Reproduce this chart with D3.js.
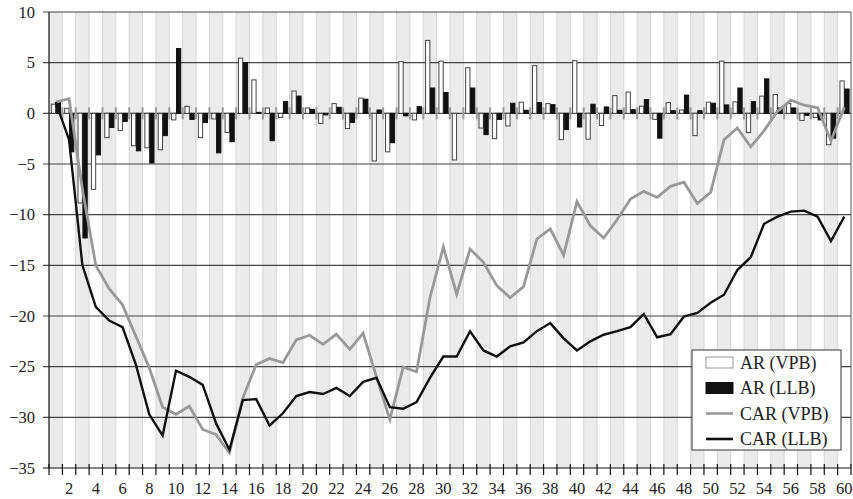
<!DOCTYPE html>
<html>
<head>
  <meta charset="utf-8">
  <script src="https://d3js.org/d3.v7.min.js"></script>
  <style>
    body{margin:0;background:#fff;}
    svg{display:block;font-family:"Liberation Serif","Times New Roman",serif;}
  </style>
</head>
<body>
<svg></svg>
<script>
// event days 1..60
var days = d3.range(1, 61);
var yTicks = [-35, -30, -25, -20, -15, -10, -5, 0, 5, 10];

var arVPB = [0.9, 0.5, -8.85, -7.5, -2.4, -1.7, -3.2, -3.4, -3.6, -0.65,
  0.7, -2.4, -0.55, -1.9, 5.45, 3.3, 0.53, -0.4, 2.2, 0.53,
  -1.0, 0.96, -1.5, 1.5, -4.7, -3.8, 5.1, -0.65, 7.2, 5.15,
  -4.6, 4.5, -1.45, -2.5, -1.25, 1.1, 4.7, 0.96, -2.6, 5.2,
  -2.55, -1.2, 1.75, 2.1, 0.7, -0.6, 1.06, 0.33, -2.2, 1.1,
  5.15, 1.13, -1.9, 1.7, 1.85, 0.96, -0.7, -0.4, -3.1, 3.2];

var arLLB = [1.1, -3.8, -12.3, -4.1, -1.4, -0.8, -3.7, -4.9, -2.2, 6.4,
  -0.6, -0.9, -3.9, -2.8, 5.0, 0.1, -2.7, 1.16, 1.7, 0.4,
  -0.15, 0.6, -0.9, 1.4, 0.33, -2.9, -0.25, 0.66, 2.5, 2.05,
  0, 2.5, -2.1, -0.6, 1.0, 0.3, 1.06, 0.86, -1.6, -1.35,
  0.9, 0.63, 0.3, 0.36, 1.36, -2.45, 0.26, 1.8, 0.26, 1.0,
  0.83, 2.5, 1.16, 3.4, 0.53, 0.53, -0.2, -0.65, -2.45, 2.4];

var carVPB = [1.1, 1.45, -7.5, -15.0, -17.3, -18.9, -22.0, -25.1, -29.0, -29.7,
  -28.9, -31.2, -31.7, -33.5, -28.1, -24.8, -24.2, -24.6, -22.35, -21.9,
  -22.8, -21.8, -23.3, -21.7, -26.0, -30.2, -25.05, -25.5, -18.2, -13.2,
  -17.85, -13.4, -14.7, -17.0, -18.2, -17.1, -12.4, -11.4, -14.0, -8.7,
  -11.1, -12.3, -10.5, -8.45, -7.7, -8.3, -7.2, -6.8, -8.9, -7.8,
  -2.6, -1.45, -3.3, -1.7, 0.2, 1.3, 0.8, 0.55, -2.7, 0.6];

var carLLB = [1.1, -2.6, -15.0, -19.1, -20.45, -21.1, -24.8, -29.7, -31.8, -25.4,
  -26.0, -26.8, -30.6, -33.2, -28.3, -28.2, -30.8, -29.6, -27.9, -27.5,
  -27.7, -27.1, -27.9, -26.5, -26.1, -29.0, -29.15, -28.5, -26.1, -24.0,
  -24.0, -21.5, -23.4, -24.0, -23.0, -22.6, -21.5, -20.7, -22.2, -23.4,
  -22.5, -21.85, -21.5, -21.1, -19.8, -22.1, -21.8, -20.05, -19.7, -18.7,
  -17.9, -15.45, -14.2, -10.9, -10.2, -9.7, -9.6, -10.2, -12.6, -10.2];

(function () {
  var W = 853, H = 499;
  var mL = 49, mR = 851, mT = 12, mB = 468;

  var svg = d3.select("svg").attr("width", W).attr("height", H);

  var x = d3.scaleBand().domain(days).range([mL, mR]).padding(0);
  var y = d3.scaleLinear().domain([-35, 10]).range([mB, mT]);
  var inner = d3.scaleBand().domain(["VPB", "LLB"]).range([1.8, x.bandwidth() - 1.8]).padding(0);

  // alternating bands
  svg.append("g").selectAll("rect").data(days).enter().append("rect")
    .attr("x", function(d){ return x(d); })
    .attr("y", mT)
    .attr("width", x.bandwidth())
    .attr("height", mB - mT)
    .attr("fill", function(d){ return d % 2 ? "#ebebeb" : "#fff"; });

  // faint band separators
  svg.append("g").selectAll("line").data(days.slice(1)).enter().append("line")
    .attr("x1", function(d){ return x(d); }).attr("x2", function(d){ return x(d); })
    .attr("y1", mT).attr("y2", mB)
    .attr("stroke", "#d6d6d6").attr("stroke-width", 1);

  // horizontal grid
  svg.append("g").selectAll("line").data(yTicks).enter().append("line")
    .attr("x1", mL - 6).attr("x2", mR)
    .attr("y1", function(d){ return y(d); }).attr("y2", function(d){ return y(d); })
    .attr("stroke", function(d){ return d === -35 ? "#111" : "#444"; })
    .attr("stroke-width", 1.1);

  // y labels
  svg.append("g").selectAll("text").data(yTicks).enter().append("text")
    .attr("x", 35).attr("y", function(d){ return y(d); })
    .attr("dy", "0.35em")
    .attr("text-anchor", "end")
    .attr("font-size", 16.5)
    .attr("fill", "#222")
    .text(function(d){ return d < 0 ? "\u2212" + (-d) : d; });

  // grey ticks on zero line
  svg.append("g").selectAll("line").data(days.slice(1)).enter().append("line")
    .attr("x1", function(d){ return x(d); }).attr("x2", function(d){ return x(d); })
    .attr("y1", y(0) - 6).attr("y2", y(0) + 6)
    .attr("stroke", "#9a9a9a").attr("stroke-width", 2);

  // bars
  function bars(vals, key, fill, stroke) {
    svg.append("g").selectAll("rect").data(vals).enter().append("rect")
      .attr("x", function(d, i){ return x(days[i]) + inner(key) + 0.5; })
      .attr("y", function(d){ return y(Math.max(0, d)); })
      .attr("width", inner.bandwidth() - 0.6)
      .attr("height", function(d){ return Math.abs(y(d) - y(0)); })
      .attr("fill", fill)
      .attr("stroke", stroke)
      .attr("stroke-width", 1);
  }
  bars(arVPB, "VPB", "#fff", "#444");
  bars(arLLB, "LLB", "#111", "#111");

  // cumulative lines
  var line = d3.line()
    .x(function(d, i){ return x(days[i]) + x.bandwidth() / 2; })
    .y(function(d){ return y(d); });

  svg.append("path").datum(carVPB).attr("d", line)
    .attr("fill", "none").attr("stroke", "#999").attr("stroke-width", 2.8)
    .attr("stroke-linejoin", "miter");
  svg.append("path").datum(carLLB).attr("d", line)
    .attr("fill", "none").attr("stroke", "#111").attr("stroke-width", 2.4)
    .attr("stroke-linejoin", "miter");

  // frame
  svg.append("line").attr("x1", mL).attr("x2", mL).attr("y1", mT).attr("y2", mB)
    .attr("stroke", "#111").attr("stroke-width", 1.2);
  svg.append("line").attr("x1", mR).attr("x2", mR).attr("y1", mT).attr("y2", mB)
    .attr("stroke", "#555").attr("stroke-width", 1);

  // bottom ticks
  svg.append("g").selectAll("line").data(days.concat([61])).enter().append("line")
    .attr("x1", function(d){ return d === 61 ? mR : x(d); })
    .attr("x2", function(d){ return d === 61 ? mR : x(d); })
    .attr("y1", mB - 4).attr("y2", mB + 7)
    .attr("stroke", "#111").attr("stroke-width", 1.2);

  svg.append("g").selectAll("text").data(days.filter(function(d){ return d % 2 === 0; }))
    .enter().append("text")
    .attr("x", function(d){ return x(d) + x.bandwidth() / 2; })
    .attr("y", 494)
    .attr("text-anchor", "middle")
    .attr("font-size", 16.5)
    .attr("fill", "#222")
    .text(function(d){ return d; });

  // legend
  var lg = svg.append("g").attr("transform", "translate(692,350)");
  lg.append("rect").attr("width", 149).attr("height", 100)
    .attr("fill", "#fff").attr("stroke", "#333").attr("stroke-width", 1);
  var items = [
    {name: "AR (VPB)", type: "bar", fill: "#fff", stroke: "#999"},
    {name: "AR (LLB)", type: "bar", fill: "#111", stroke: "#111"},
    {name: "CAR (VPB)", type: "line", stroke: "#999"},
    {name: "CAR (LLB)", type: "line", stroke: "#111"}
  ];
  items.forEach(function(it, i){
    var cy = 12.5 + i * 25.5;
    if (it.type === "bar") {
      lg.append("rect").attr("x", 14).attr("y", cy - 5.5).attr("width", 27).attr("height", 11)
        .attr("fill", it.fill).attr("stroke", it.stroke).attr("stroke-width", 1);
    } else {
      lg.append("line").attr("x1", 14).attr("x2", 41).attr("y1", cy).attr("y2", cy)
        .attr("stroke", it.stroke).attr("stroke-width", 2.6);
    }
    lg.append("text").attr("x", 48).attr("y", cy).attr("dy", "0.35em")
      .attr("font-size", 18).attr("fill", "#222").text(it.name);
  });
})();
</script>
</body>
</html>
